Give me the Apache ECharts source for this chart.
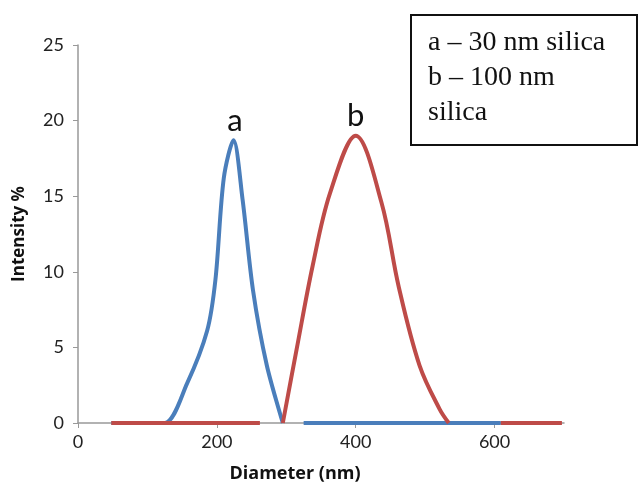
<!DOCTYPE html>
<html>
<head>
<meta charset="utf-8">
<script src="https://cdn.jsdelivr.net/npm/echarts@6/dist/echarts.min.js"></script>
<style>
  html, body { margin: 0; padding: 0; background: #fff; }
  #chart { width: 640px; height: 488px; }
</style>
</head>
<body>
<div id="chart"></div>
<script>
// tick labels
const xTicks = [0, 200, 400, 600];
const yTicks = [0, 5, 10, 15, 20, 25];

// a - 30 nm silica (blue), null = gap in the record
const blueX = [48, 90, 125, 157, 186, 198, 210, 224, 237, 252, 272, 295, null, 325, 450, 609];
const blueY = [0, 0, 0, 2.6, 6.1, 9.5, 16.2, 18.7, 14.8, 8.8, 3.8, 0, null, 0, 0, 0];

// b - 100 nm silica (red)
const redX = [48, 150, 262, null, 295, 315, 338, 363, 400, 437, 462, 492, 521, 534, null, 609, 697];
const redY = [0, 0, 0, null, 0, 4.9, 10.4, 15.2, 19.0, 14.6, 9.0, 3.8, 0.9, 0, null, 0, 0];

const legendLines = ['a \u2013 30 nm silica', 'b \u2013 100 nm', 'silica'];

const toPairs = (xs, ys) => xs.map((x, i) => (x === null ? [null, null] : [x, ys[i]]));

const chart = echarts.init(document.getElementById('chart'));

const peakLabel = (name, x, y) => ({
  symbol: 'circle',
  symbolSize: 0,
  data: [{ coord: [x, y] }],
  label: {
    show: true,
    position: 'top',
    distance: 4,
    formatter: name,
    color: '#111',
    fontSize: 31,
    fontFamily: 'Lato'
  }
});

const option = {
  animation: false,
  grid: { left: 78, right: 76, top: 45, bottom: 64 },
  xAxis: {
    type: 'value',
    min: 0,
    max: 700,
    interval: 200,
    name: 'Diameter (nm)',
    nameLocation: 'middle',
    nameGap: 42,
    nameTextStyle: {
      fontFamily: 'Open Sans', fontWeight: 'bold', fontSize: 18, color: '#111',
      padding: [0, 52, 0, 0]
    },
    axisLine: { lineStyle: { color: '#999', width: 1.5 } },
    axisTick: { show: true, length: 5, customValues: xTicks, lineStyle: { color: '#999' } },
    axisLabel: { customValues: xTicks, fontFamily: 'Lato', fontSize: 18, color: '#222', margin: 10 },
    splitLine: { show: false }
  },
  yAxis: {
    type: 'value',
    min: 0,
    max: 25,
    interval: 5,
    name: 'Intensity %',
    nameLocation: 'middle',
    nameGap: 50,
    nameTextStyle: { fontFamily: 'Open Sans', fontWeight: 'bold', fontSize: 17, color: '#111' },
    axisLine: { show: true, lineStyle: { color: '#999', width: 1.5 } },
    axisTick: { show: true, length: 5, lineStyle: { color: '#999' } },
    axisLabel: { fontFamily: 'Lato', fontSize: 18, color: '#222', margin: 14 },
    splitLine: { show: false }
  },
  series: [
    {
      name: 'a',
      type: 'line',
      data: toPairs(blueX, blueY),
      smooth: 0.3,
      showSymbol: false,
      connectNulls: false,
      lineStyle: { color: '#4a7ebb', width: 4 },
      markPoint: peakLabel('a', 226, 18.7),
      z: 2
    },
    {
      name: 'b',
      type: 'line',
      data: toPairs(redX, redY),
      smooth: 0.35,
      showSymbol: false,
      connectNulls: false,
      lineStyle: { color: '#be4b48', width: 4 },
      markPoint: peakLabel('b', 400, 19.0),
      z: 3
    }
  ],
  graphic: [
    {
      type: 'group',
      left: 410,
      top: 14,
      children: [
        {
          type: 'rect',
          shape: { x: 0, y: 0, width: 226, height: 130 },
          style: { fill: '#fff', stroke: '#111', lineWidth: 2 }
        },
        ...legendLines.map((t, i) => ({
          type: 'text',
          x: 17,
          y: 28 + i * 35,
          style: {
            text: t,
            fill: '#111',
            font: '28px "Liberation Serif"',
            textVerticalAlign: 'middle'
          }
        }))
      ]
    }
  ]
};

chart.setOption(option);
</script>
</body>
</html>
